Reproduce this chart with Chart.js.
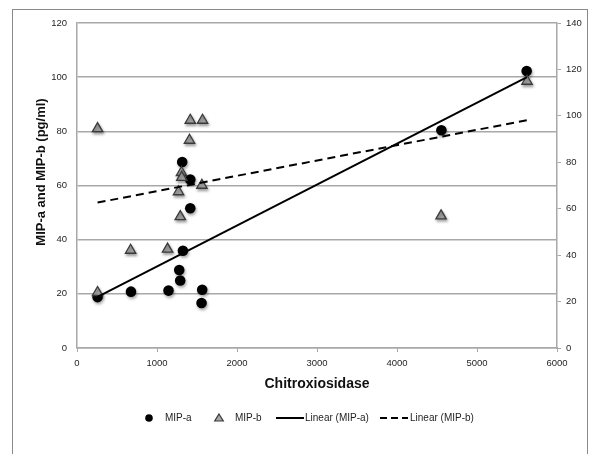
<!DOCTYPE html>
<html>
<head>
<meta charset="utf-8">
<script src="https://cdn.jsdelivr.net/npm/chart.js@4.4.1/dist/chart.umd.min.js"></script>
<style>
  html, body { margin: 0; padding: 0; background: #ffffff; }
  #wrap { width: 589px; height: 454px; position: relative; }
</style>
</head>
<body>
<div id="wrap"><canvas id="chart" width="589" height="454"></canvas></div>
<script>
// Chitroxiosidase activity vs. MIP-a / MIP-b concentration (pg/ml)
const mipAX = [257, 675, 1144, 1278, 1290, 1324, 1416, 1565, 1557, 1416, 1315, 4555, 5621];
const mipAY = [18.8, 20.8, 21.2, 28.8, 24.9, 35.9, 51.6, 21.5, 16.6, 62.2, 68.7, 80.4, 102.3];

const mipBX = [257, 670, 1132, 1291, 1269, 1561, 1306, 1310, 257, 1416, 1569, 1406, 4551, 5625];
const mipBY = [20.5, 36.1, 36.5, 48.5, 57.7, 60.1, 64.8, 63.0, 81.0, 84.1, 84.1, 76.7, 48.8, 98.5];

// Linear trend lines (end points)
const trendX = [257, 5625];
const trendAY = [18.9, 100.0];
const trendBY = [53.7, 84.1];

const xTitle = 'Chitroxiosidase';
const yTitle = 'MIP-a and MIP-b (pg/ml)';

const toPoints = (xs, ys) => xs.map((x, i) => ({ x: x, y: ys[i] }));

const FONT = '"Liberation Sans", Arial, sans-serif';
const GRID = '#a8a8a8';
const TEXT = '#1f1f1f';
const plainNumber = (v) => String(v);

// soft drop shadow under the markers
const markerShadow = {
  id: 'markerShadow',
  beforeDatasetDraw(chart, args) {
    const ds = chart.data.datasets[args.index];
    if (ds.shadow) {
      const ctx = chart.ctx;
      ctx.save();
      ctx.shadowColor = 'rgba(0,0,0,0.35)';
      ctx.shadowBlur = 3;
      ctx.shadowOffsetX = 1;
      ctx.shadowOffsetY = 2;
    }
  },
  afterDatasetDraw(chart, args) {
    const ds = chart.data.datasets[args.index];
    if (ds.shadow) chart.ctx.restore();
  }
};

// outer frame, axis titles and legend row
const decorations = {
  id: 'decorations',
  afterDraw(chart) {
    const ctx = chart.ctx;
    const area = chart.chartArea;
    ctx.save();
    ctx.strokeStyle = '#8a8a8a';
    ctx.lineWidth = 1;
    ctx.strokeRect(12.5, 9.5, 575, 470);

    ctx.fillStyle = '#111';
    ctx.textAlign = 'center';
    ctx.textBaseline = 'middle';
    ctx.font = 'bold 14px ' + FONT;
    ctx.fillText(xTitle, (area.left + area.right) / 2, 384);

    ctx.save();
    ctx.translate(41, 172);
    ctx.rotate(-Math.PI / 2);
    ctx.font = 'bold 13px ' + FONT;
    ctx.fillText(yTitle, 0, 0);
    ctx.restore();

    // legend
    const ly = 418;
    const ds = chart.data.datasets;
    ctx.font = '10px ' + FONT;
    ctx.textAlign = 'left';
    ctx.fillStyle = TEXT;

    // MIP-a marker
    ctx.beginPath();
    ctx.fillStyle = ds[0].backgroundColor;
    ctx.arc(149, ly, 3.8, 0, Math.PI * 2);
    ctx.fill();
    ctx.fillStyle = TEXT;
    ctx.fillText(ds[0].label, 165, ly);

    // MIP-b marker
    ctx.beginPath();
    ctx.moveTo(219, ly - 4);
    ctx.lineTo(223.3, ly + 3);
    ctx.lineTo(214.7, ly + 3);
    ctx.closePath();
    ctx.fillStyle = ds[1].backgroundColor;
    ctx.fill();
    ctx.strokeStyle = ds[1].borderColor;
    ctx.lineWidth = 1.2;
    ctx.stroke();
    ctx.fillStyle = TEXT;
    ctx.fillText(ds[1].label, 235, ly);

    // Linear (MIP-a)
    ctx.beginPath();
    ctx.strokeStyle = ds[2].borderColor;
    ctx.lineWidth = 2;
    ctx.moveTo(276, ly);
    ctx.lineTo(304, ly);
    ctx.stroke();
    ctx.fillText(ds[2].label, 305, ly);

    // Linear (MIP-b)
    ctx.beginPath();
    ctx.setLineDash([7, 4]);
    ctx.strokeStyle = ds[3].borderColor;
    ctx.moveTo(380, ly);
    ctx.lineTo(408, ly);
    ctx.stroke();
    ctx.setLineDash([]);
    ctx.fillText(ds[3].label, 410, ly);
    ctx.restore();
  }
};

new Chart(document.getElementById('chart'), {
  type: 'scatter',
  data: {
    datasets: [
      {
        label: 'MIP-a',
        data: toPoints(mipAX, mipAY),
        backgroundColor: '#000000',
        borderColor: '#000000',
        pointStyle: 'circle',
        pointRadius: 5.3,
        pointBorderWidth: 0,
        yAxisID: 'y',
        shadow: true,
        order: 2
      },
      {
        label: 'MIP-b',
        data: toPoints(mipBX, mipBY),
        backgroundColor: '#a6a6a6',
        borderColor: '#3a3a3a',
        pointStyle: 'triangle',
        pointRadius: 6,
        pointBorderWidth: 1.3,
        yAxisID: 'y',
        shadow: true,
        order: 1
      },
      {
        label: 'Linear (MIP-a)',
        type: 'line',
        data: toPoints(trendX, trendAY),
        borderColor: '#000000',
        borderWidth: 2,
        pointRadius: 0,
        fill: false,
        yAxisID: 'y',
        order: 0
      },
      {
        label: 'Linear (MIP-b)',
        type: 'line',
        data: toPoints(trendX, trendBY),
        borderColor: '#000000',
        borderWidth: 2,
        borderDash: [8, 5],
        pointRadius: 0,
        fill: false,
        yAxisID: 'y',
        order: 0
      }
    ]
  },
  options: {
    responsive: false,
    animation: false,
    layout: { padding: { left: 12, right: 0, top: 23, bottom: 0 } },
    plugins: {
      legend: { display: false },
      tooltip: { enabled: false }
    },
    scales: {
      x: {
        type: 'linear',
        min: 0,
        max: 6000,
        afterFit(s) { s.height = 106; },
        ticks: { stepSize: 1000, callback: plainNumber, color: TEXT, font: { family: FONT, size: 9.5 }, padding: 6, maxRotation: 0 },
        grid: { drawOnChartArea: false, drawTicks: true, tickLength: 4, color: GRID },
        border: { color: GRID, width: 1.5 }
      },
      y: {
        position: 'left',
        min: 0,
        max: 120,
        afterFit(s) { s.width = 65; },
        ticks: { stepSize: 20, callback: plainNumber, color: TEXT, font: { family: FONT, size: 9.5 }, padding: 10 },
        grid: { color: GRID, lineWidth: 1.5, drawTicks: false },
        border: { color: GRID, width: 1.5 }
      },
      y2: {
        position: 'right',
        min: 0,
        max: 140,
        afterFit(s) { s.width = 32; },
        ticks: { stepSize: 20, callback: plainNumber, color: TEXT, font: { family: FONT, size: 9.5 }, padding: 5 },
        grid: { drawOnChartArea: false, drawTicks: true, tickLength: 4, color: GRID },
        border: { color: GRID, width: 1.5 }
      }
    }
  },
  plugins: [markerShadow, decorations]
});
</script>
</body>
</html>
